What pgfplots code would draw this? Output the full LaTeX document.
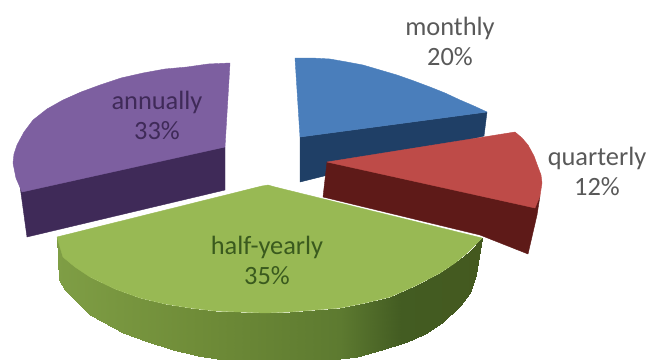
\documentclass[border=0pt]{standalone}
\usepackage{pgfplots}
\pgfplotsset{compat=1.18}
\usepackage{fontspec}
\setmainfont{Carlito}
\definecolor{blueTop}{HTML}{4A7EBB}
\definecolor{blueSide}{HTML}{1F3F66}
\definecolor{redTop}{HTML}{BE4B48}
\definecolor{redSide}{HTML}{5E1A18}
\definecolor{greenTop}{HTML}{98B954}
\definecolor{purpleTop}{HTML}{7D5FA0}
\definecolor{purpleSide}{HTML}{3F2A58}
\definecolor{labelGray}{HTML}{595959}
\definecolor{labelGreen}{HTML}{3A5A1E}
\definecolor{labelPurple}{HTML}{3F2A58}
\begin{document}
\begin{tikzpicture}
\begin{axis}[
  width=651bp, height=360bp, scale only axis,
  xmin=0, xmax=651, ymin=0, ymax=360, y dir=reverse,
  hide axis, clip=true,
  every axis plot/.append style={line join=round},
  colormap={sideGreen}{
    rgb255(0)=(127,158,69) rgb255(140)=(111,140,56) rgb255(280)=(93,122,48)
    rgb255(340)=(67,92,34) rgb255(420)=(68,89,31)},
]
% invisible frame keeps the full drawing area
\addplot[draw=none, forget plot] coordinates {(0,0) (651,360)};

% monthly, 20%
\addplot[fill=blueSide, draw=blueSide, line width=0.4pt] coordinates {
  (300,137) (487,112) (484,136) (300,182)} -- cycle;
\addplot[fill=blueTop, draw=blueTop, line width=0.4pt] coordinates {
  (295,58) (312,58) (330,59) (347,62) (363,65) (380,70) (397,75) (414,81)
  (430,87) (445,93) (460,100) (474,106) (487,112) (300,137)} -- cycle;

% quarterly, 12%
\addplot[fill=redSide, draw=redSide, line width=0.4pt] coordinates {
  (327,162) (540,196) (537,215) (528,254) (480,235) (323,197)} -- cycle;
\addplot[fill=redTop, draw=redTop, line width=0.4pt] coordinates {
  (515,132) (522,138) (528,145) (534,156) (538,167) (541,175) (542,183)
  (540,196) (535,208) (327,162)} -- cycle;

% annually, 33%
\addplot[fill=purpleSide, draw=purpleSide, line width=0.4pt] coordinates {
  (20,186) (225,147) (225,190) (27,237)} -- cycle;
\addplot[fill=purpleTop, draw=purpleTop, line width=0.4pt] coordinates {
  (230,63) (208,64) (187,67) (165,69) (143,73) (121,78) (100,85) (81,92)
  (63,100) (47,109) (33,120) (24,132) (17,145) (14,154) (13,163) (16,178)
  (22,192) (225,147)} -- cycle;

% half-yearly, 35%: rim as shaded strips, then the top face
\addplot[patch, patch type=rectangle, shader=interp, point meta=x]
  table[row sep=\\] {
  x y \\
  57 237 \\ 59 280 \\ 65 290 \\ 63 257 \\
  63 257 \\ 65 290 \\ 90 315 \\ 90 277 \\
  90 277 \\ 90 315 \\ 123 333 \\ 115 289 \\
  115 289 \\ 123 333 \\ 148 342 \\ 140 298 \\
  140 298 \\ 148 342 \\ 173 350 \\ 165 304 \\
  165 304 \\ 173 350 \\ 198 356 \\ 190 308 \\
  190 308 \\ 198 356 \\ 223 360 \\ 215 311 \\
  215 311 \\ 223 360 \\ 250 361 \\ 240 312 \\
  240 312 \\ 250 361 \\ 280 361 \\ 265 313 \\
  265 313 \\ 280 361 \\ 307 361 \\ 290 312 \\
  290 312 \\ 307 361 \\ 332 360 \\ 315 310 \\
  315 310 \\ 332 360 \\ 357 357 \\ 340 308 \\
  340 308 \\ 357 357 \\ 382 350 \\ 365 303 \\
  365 303 \\ 382 350 \\ 407 342 \\ 390 297 \\
  390 297 \\ 407 342 \\ 425 334 \\ 415 286 \\
  415 286 \\ 425 334 \\ 443 322 \\ 440 273 \\
  440 273 \\ 443 322 \\ 460 306 \\ 460 259 \\
  460 259 \\ 460 306 \\ 470 293 \\ 470 251 \\
  470 251 \\ 470 293 \\ 476 275 \\ 482 238 \\
};
\addplot[fill=greenTop, draw=greenTop, line width=0.4pt] coordinates {
  (275,187) (268,185) (262,186) (57,237) (63,257) (75,267) (90,277) (115,289)
  (140,298) (165,304) (190,308) (215,311) (240,312) (265,313) (290,312)
  (315,310) (340,308) (365,303) (390,297) (415,286) (440,273) (455,263)
  (467,253) (482,238)} -- cycle;

% category labels
\node[align=center, text=labelGray, font=\fontsize{26.5}{30}\selectfont]
  at (axis cs:450,41) {monthly\\20\%};
\node[align=center, text=labelGray, font=\fontsize{26.5}{30}\selectfont]
  at (axis cs:597,171) {quarterly\\12\%};
\node[align=center, text=labelGreen, font=\fontsize{26.5}{30}\selectfont]
  at (axis cs:267,260) {half-yearly\\35\%};
\node[align=center, text=labelPurple, font=\fontsize{26.5}{30}\selectfont]
  at (axis cs:157,115) {annually\\33\%};
\end{axis}
\end{tikzpicture}
\end{document}
